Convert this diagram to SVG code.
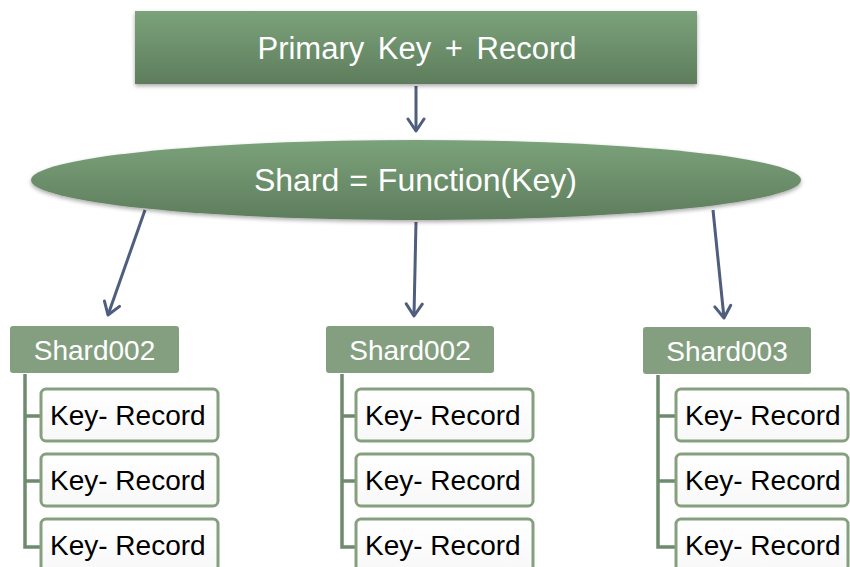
<svg xmlns="http://www.w3.org/2000/svg" width="850" height="567" viewBox="0 0 850 567">
  <defs>
    <linearGradient id="gTop" x1="0" y1="0" x2="0" y2="1">
      <stop offset="0" stop-color="#7ba27a"/>
      <stop offset="1" stop-color="#5e7d5d"/>
    </linearGradient>
    <linearGradient id="gRec" x1="0" y1="0" x2="0" y2="1">
      <stop offset="0" stop-color="#ffffff"/>
      <stop offset="1" stop-color="#f8f8f8"/>
    </linearGradient>
    <filter id="shadow" x="-5%" y="-20%" width="110%" height="150%">
      <feGaussianBlur in="SourceAlpha" stdDeviation="2"/>
      <feOffset dx="0" dy="2" result="b"/>
      <feComponentTransfer><feFuncA type="linear" slope="0.35"/></feComponentTransfer>
      <feMerge><feMergeNode/><feMergeNode in="SourceGraphic"/></feMerge>
    </filter>
    <marker id="arrow" viewBox="0 0 20 20" refX="17" refY="10" markerWidth="20" markerHeight="20" markerUnits="userSpaceOnUse" orient="auto">
      <path d="M5,2 L17,10 L5,18" fill="none" stroke="#4f5e7f" stroke-width="3" stroke-linecap="round" stroke-linejoin="round"/>
    </marker>
  </defs>
  <style>
    .lbl { font-family: "Liberation Sans", Arial, sans-serif; fill: #ffffff; }
    .rec { font-family: "Liberation Sans", Arial, sans-serif; font-size: 28px; fill: #000000; }
    .shardbox { fill: #849f80; }
    .recbox { fill: url(#gRec); stroke: #85a07f; stroke-width: 3; }
    .tree { fill: none; stroke: #6f8b6d; stroke-width: 3.5; }
    .conn { fill: none; stroke: #4f5e7f; stroke-width: 3; marker-end: url(#arrow); }
  </style>

  <!-- connectors -->
  <g id="connectors">
    <line class="conn" x1="416" y1="86" x2="416" y2="131"/>
    <line class="conn" x1="145" y1="210" x2="108" y2="315"/>
    <line class="conn" x1="416" y1="222" x2="414" y2="316"/>
    <line class="conn" x1="713" y1="210" x2="724" y2="318"/>
  </g>

  <g id="input">
    <rect x="135" y="11" width="562" height="73" fill="url(#gTop)" filter="url(#shadow)"/>
    <text class="lbl" x="417" y="59" font-size="31" word-spacing="5" text-anchor="middle">Primary Key + Record</text>
  </g>

  <g id="shard-function">
    <ellipse cx="416" cy="180" rx="385" ry="40" fill="url(#gTop)" filter="url(#shadow)"/>
    <text class="lbl" x="415.5" y="191" font-size="32" word-spacing="1" text-anchor="middle">Shard = Function(Key)</text>
  </g>

  <!-- shard 1 -->
  <g id="shard-a">
    <path class="tree" d="M25,374 V547 H41 M25,416 H41 M25,481 H41"/>
    <rect class="shardbox" x="10" y="326" width="169" height="47" rx="3"/>
    <text class="lbl" x="94.5" y="360" font-size="28" text-anchor="middle">Shard002</text>
    <rect class="recbox" x="41" y="389" width="177" height="52" rx="5"/>
    <text class="rec" x="50" y="425">Key- Record</text>
    <rect class="recbox" x="41" y="454" width="177" height="52" rx="5"/>
    <text class="rec" x="50" y="490">Key- Record</text>
    <rect class="recbox" x="41" y="519" width="177" height="52" rx="5"/>
    <text class="rec" x="50" y="555">Key- Record</text>
  </g>

  <!-- shard 2 -->
  <g id="shard-b">
    <path class="tree" d="M342,374 V547 H356 M342,416 H356 M342,481 H356"/>
    <rect class="shardbox" x="326" y="326" width="168" height="47" rx="3"/>
    <text class="lbl" x="410" y="360" font-size="28" text-anchor="middle">Shard002</text>
    <rect class="recbox" x="356" y="389" width="177" height="52" rx="5"/>
    <text class="rec" x="365" y="425">Key- Record</text>
    <rect class="recbox" x="356" y="454" width="177" height="52" rx="5"/>
    <text class="rec" x="365" y="490">Key- Record</text>
    <rect class="recbox" x="356" y="519" width="177" height="52" rx="5"/>
    <text class="rec" x="365" y="555">Key- Record</text>
  </g>

  <!-- shard 3 -->
  <g id="shard-c">
    <path class="tree" d="M658,375 V547 H676 M658,416 H676 M658,481 H676"/>
    <rect class="shardbox" x="643" y="327" width="168" height="47" rx="3"/>
    <text class="lbl" x="727" y="361" font-size="28" text-anchor="middle">Shard003</text>
    <rect class="recbox" x="676" y="389" width="172" height="52" rx="5"/>
    <text class="rec" x="685" y="425">Key- Record</text>
    <rect class="recbox" x="676" y="454" width="172" height="52" rx="5"/>
    <text class="rec" x="685" y="490">Key- Record</text>
    <rect class="recbox" x="676" y="519" width="172" height="52" rx="5"/>
    <text class="rec" x="685" y="555">Key- Record</text>
  </g>
</svg>
